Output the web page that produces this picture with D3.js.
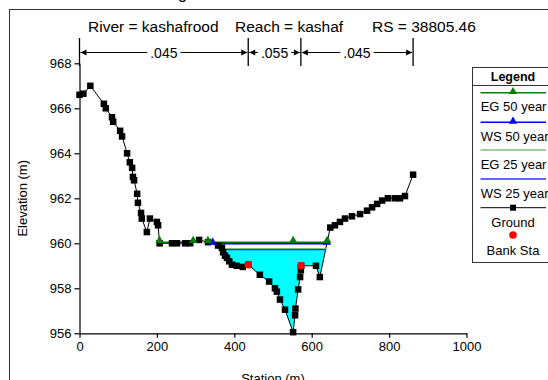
<!DOCTYPE html>
<html>
<head>
<meta charset="utf-8">
<script src="https://cdn.jsdelivr.net/npm/d3@7"></script>
<style>
  body { margin: 0; background: #fff; }
  svg { display: block; font-family: "Liberation Sans", Arial, sans-serif; }
</style>
</head>
<body>
<svg id="chart" width="548" height="380"></svg>
<script>
// ground profile (station m, elevation m)
const groundSta = [0, 10, 28, 63, 68, 84, 87, 105, 110, 123, 130, 136, 138, 141, 149, 151, 159, 161, 174, 182,
  200, 203, 207, 239, 252, 273, 286, 309, 332, 358, 368, 371, 376, 381, 387, 394, 406, 422, 436, 466,
  490, 505, 510, 518, 531, 552, 557, 558, 565, 570, 572, 573, 611, 621, 648, 660, 673, 686, 704, 725,
  743, 756, 769, 782, 797, 815, 828, 841, 862];
const groundElev = [966.6, 966.65, 967.0, 966.2, 966.0, 965.6, 965.4, 965.0, 964.75, 964.0, 963.6, 963.35, 962.95, 962.8, 962.2, 961.8, 961.35, 961.1, 960.5, 961.1,
  960.95, 960.8, 960.0, 960.0, 960.0, 960.0, 960.0, 960.15, 960.05, 959.9, 959.8, 959.6, 959.45, 959.35, 959.2, 959.05, 959.0, 958.95, 959.05, 958.6,
  958.3, 958.0, 957.85, 957.5, 957.05, 956.05, 956.8, 957.1, 957.95, 958.5, 958.8, 959.0, 959.0, 958.5, 960.7, 960.8, 960.95, 961.1, 961.2, 961.3,
  961.45, 961.6, 961.75, 961.9, 962.0, 962.0, 962.0, 962.1, 963.05];

const bankSta = [436, 572];
const bankElev = [959.05, 959.0];

// water profiles
const profileNames = ["EG 50 year", "WS 50 year", "EG 25 year", "WS 25 year"];
const profileElev = [960.05, 959.98, 959.76, 959.72];
const egExtraMarkers = [552];

// Manning's n
const nStations = [0, 436, 572, 862];
const nValues = [".045", ".055", ".045"];

const xTicks = [0, 200, 400, 600, 800, 1000];
const yTicks = [956, 958, 960, 962, 964, 966, 968];

const svg = d3.select("#chart");
const x = d3.scaleLinear().domain([0, 1000]).range([79.5, 466.5]);
const y = d3.scaleLinear().domain([956, 968]).range([333.3, 63.3]);

const ground = groundSta.map((s, i) => [s, groundElev[i]]);

// wetted intervals where the ground is below a level
function wetIntervals(level) {
  const out = [];
  let start = ground[0][1] < level ? ground[0][0] : null;
  for (let i = 0; i < ground.length - 1; i++) {
    const [s0, e0] = ground[i], [s1, e1] = ground[i + 1];
    if (e0 >= level && e1 < level) start = s0 + (s1 - s0) * (e0 - level) / (e0 - e1);
    if (e0 < level && e1 >= level && start !== null) {
      out.push([start, s0 + (s1 - s0) * (level - e0) / (e1 - e0)]);
      start = null;
    }
  }
  return out;
}

// outer frame
svg.append("rect").attr("x", 9.5).attr("y", 9.5).attr("width", 600).attr("height", 400)
  .attr("fill", "none").attr("stroke", "#333");
svg.append("text").attr("x", 178).attr("y", -1.5).attr("font-size", 16).text("g");

// title
const titleY = 32;
[["River = kashafrood", 88], ["Reach = kashaf", 235], ["RS = 38805.46", 372]].forEach(([t, px]) => {
  svg.append("text").attr("x", px).attr("y", titleY).attr("font-size", 15.5).attr("fill", "#000").text(t);
});

// n value annotation
const nY = 52.5;
const nG = svg.append("g");
nStations.forEach(s => {
  nG.append("line").attr("x1", x(s)).attr("x2", x(s)).attr("y1", 38).attr("y2", 66)
    .attr("stroke", "#000").attr("stroke-width", 1.3);
});
nValues.forEach((v, i) => {
  const a = x(nStations[i]), b = x(nStations[i + 1]), m = (a + b) / 2;
  const t = nG.append("text").attr("x", m).attr("y", nY + 5).attr("text-anchor", "middle")
    .attr("font-size", 14).attr("fill", "#000").text(v);
  const w = t.node().getComputedTextLength() / 2 + 3;
  nG.append("line").attr("x1", a + 1).attr("x2", m - w).attr("y1", nY).attr("y2", nY).attr("stroke", "#000");
  nG.append("line").attr("x1", m + w).attr("x2", b - 1).attr("y1", nY).attr("y2", nY).attr("stroke", "#000");
  nG.append("path").attr("d", `M${a + 1},${nY} l6,-3 l0,6 z`).attr("fill", "#000");
  nG.append("path").attr("d", `M${b - 1},${nY} l-6,-3 l0,6 z`).attr("fill", "#000");
});

// axes
const xAxisG = svg.append("g").attr("transform", `translate(0,${y(956)})`);
xAxisG.call(d3.axisBottom(x).tickValues(d3.range(0, 1001, 40)).tickSize(3.5).tickSizeOuter(0).tickFormat(""));
xAxisG.call(d3.axisBottom(x).tickValues(xTicks).tickSize(4.5).tickSizeOuter(0).tickFormat(d3.format("d")));
const yAxisG = svg.append("g").attr("transform", `translate(${x(0)},0)`);
yAxisG.call(d3.axisLeft(y).tickValues(d3.range(956, 968.01, 0.4)).tickSize(3).tickSizeOuter(0).tickFormat(""));
yAxisG.call(d3.axisLeft(y).tickValues(yTicks).tickSize(5).tickSizeOuter(0).tickFormat(d3.format("d")));
svg.selectAll(".tick text").attr("font-size", 13).attr("font-family", "Liberation Sans, Arial, sans-serif").attr("fill", "#000");
xAxisG.selectAll(".tick text").attr("y", 8.5);
yAxisG.selectAll(".tick text").attr("x", -8);
svg.selectAll(".domain, .tick line").attr("stroke", "#000").attr("stroke-width", 1.2);

svg.append("text").attr("x", x(500)).attr("y", 383).attr("text-anchor", "middle")
  .attr("font-size", 13).attr("fill", "#000").text("Station (m)");
svg.append("text").attr("transform", `translate(27,${y(962)}) rotate(-90)`).attr("text-anchor", "middle")
  .attr("font-size", 13).attr("fill", "#000").text("Elevation (m)");

// water fill for WS 25 year
const wsFill = profileElev[3];
wetIntervals(wsFill).forEach(([a, b]) => {
  const pts = [[a, wsFill]].concat(ground.filter(p => p[0] > a && p[0] < b), [[b, wsFill]]);
  svg.append("path").datum(pts)
    .attr("d", d3.area().x(d => x(d[0])).y0(d => y(d[1])).y1(y(wsFill)))
    .attr("fill", "#00ffff");
});

const line = d3.line().x(d => x(d[0])).y(d => y(d[1]));
svg.append("path").datum(ground).attr("d", line).attr("fill", "none").attr("stroke", "#000").attr("stroke-width", 1);

// profile lines
const profColor = ["#008000", "#0000ff", "#80c080", "#3030ff"];
const drawOrder = [2, 3, 1, 0];
const triangle = d3.symbol().type(d3.symbolTriangle).size(30);
drawOrder.forEach(k => {
  wetIntervals(profileElev[k]).forEach(([a, b]) => {
    svg.append("line").attr("x1", x(a)).attr("x2", x(b)).attr("y1", y(profileElev[k])).attr("y2", y(profileElev[k]))
      .attr("stroke", profColor[k]).attr("stroke-width", 1.4);
  });
});

// ground points
svg.append("g").selectAll("rect").data(ground).join("rect")
  .attr("x", d => x(d[0]) - 3.25).attr("y", d => y(d[1]) - 3.25).attr("width", 6.5).attr("height", 6.5).attr("fill", "#000");

// markers for 50 year profiles
[1, 0].forEach(k => {
  let ms = wetIntervals(profileElev[k]).flat();
  if (k === 0) ms = ms.concat(egExtraMarkers);
  svg.append("g").selectAll("path").data(ms).join("path")
    .attr("transform", d => `translate(${x(d)},${y(profileElev[k]) - 1.5})`)
    .attr("d", triangle).attr("fill", profColor[k]);
});

// bank stations
svg.append("g").selectAll("circle").data(bankSta).join("circle")
  .attr("cx", d => x(d)).attr("cy", (d, i) => y(bankElev[i])).attr("r", 3.8).attr("fill", "#ff0000");

// legend
const lg = svg.append("g");
lg.append("rect").attr("x", 472.5).attr("y", 67.5).attr("width", 120).attr("height", 195)
  .attr("fill", "#fff").attr("stroke", "#333");
lg.append("line").attr("x1", 472.5).attr("x2", 560).attr("y1", 85.5).attr("y2", 85.5).attr("stroke", "#333");
lg.append("text").attr("x", 513).attr("y", 81).attr("text-anchor", "middle").attr("font-size", 12.5)
  .attr("font-weight", "bold").attr("fill", "#000").text("Legend");
const rowLineY = [92.7, 122.3, 150, 179];
const rowTextY = [111, 140.5, 168.5, 198];
profileNames.forEach((nm, k) => {
  lg.append("line").attr("x1", 480.5).attr("x2", 546).attr("y1", rowLineY[k]).attr("y2", rowLineY[k])
    .attr("stroke", profColor[k]).attr("stroke-width", 1.4);
  if (k < 2) lg.append("path").attr("transform", `translate(513,${rowLineY[k] - 1})`).attr("d", triangle).attr("fill", profColor[k]);
  lg.append("text").attr("x", 480.7).attr("y", rowTextY[k]).attr("font-size", 13).attr("fill", "#000").text(nm);
});
lg.append("line").attr("x1", 480.5).attr("x2", 546).attr("y1", 207.7).attr("y2", 207.7).attr("stroke", "#000");
lg.append("rect").attr("x", 510).attr("y", 204.7).attr("width", 6).attr("height", 6).attr("fill", "#000");
lg.append("text").attr("x", 513).attr("y", 227).attr("text-anchor", "middle").attr("font-size", 13).attr("fill", "#000").text("Ground");
lg.append("circle").attr("cx", 513).attr("cy", 235).attr("r", 3.8).attr("fill", "#ff0000");
lg.append("text").attr("x", 513).attr("y", 254.5).attr("text-anchor", "middle").attr("font-size", 13).attr("fill", "#000").text("Bank Sta");
</script>
</body>
</html>
